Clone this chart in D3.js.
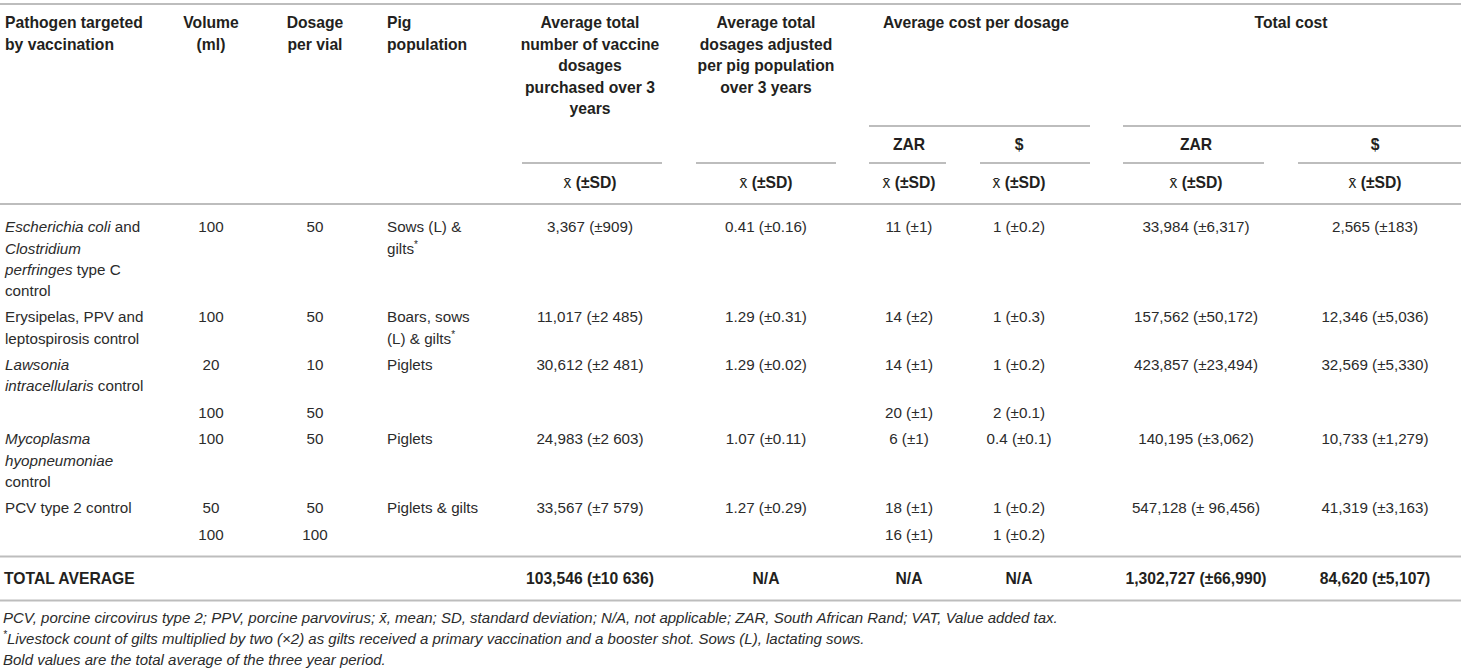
<!DOCTYPE html>
<html>
<head>
<meta charset="utf-8">
<script src="https://cdn.jsdelivr.net/npm/d3@7"></script>
<style>
  body { margin: 0; background: #fff; }
  text { font-family: "Liberation Sans", Arial, Helvetica, sans-serif; font-size: 15.7px; fill: #231f20; }
  text.cell { font-size: 15.2px; fill: #2b2b2b; }
  text.note { font-size: 15px; fill: #2b2b2b; }
</style>
</head>
<body>
<div id="table"></div>
<script>
// table content
let pathogens = [
    [[["Escherichia coli", true], [" and", false]], [["Clostridium", true]], [["perfringes", true], [" type C", false]], [["control", false]]],
    [[["Erysipelas, PPV and", false]], [["leptospirosis control", false]]],
    [[["Lawsonia", true]], [["intracellularis", true], [" control", false]]],
    [[["Mycoplasma", true]], [["hyopneumoniae", true]], [["control", false]]],
    [[["PCV type 2 control", false]]]
];
let volumes = [["100"], ["100"], ["20", "100"], ["100"], ["50", "100"]];
let dosagesPerVial = [["50"], ["50"], ["10", "50"], ["50"], ["50", "100"]];
let populations = [["Sows (L) &", "gilts*"], ["Boars, sows", "(L) & gilts*"], ["Piglets"], ["Piglets"], ["Piglets & gilts"]];
let dosesPurchased = ["3,367 (±909)", "11,017 (±2 485)", "30,612 (±2 481)", "24,983 (±2 603)", "33,567 (±7 579)"];
let dosesAdjusted = ["0.41 (±0.16)", "1.29 (±0.31)", "1.29 (±0.02)", "1.07 (±0.11)", "1.27 (±0.29)"];
let costZar = [["11 (±1)"], ["14 (±2)"], ["14 (±1)", "20 (±1)"], ["6 (±1)"], ["18 (±1)", "16 (±1)"]];
let costUsd = [["1 (±0.2)"], ["1 (±0.3)"], ["1 (±0.2)", "2 (±0.1)"], ["0.4 (±0.1)"], ["1 (±0.2)", "1 (±0.2)"]];
let totalZar = ["33,984 (±6,317)", "157,562 (±50,172)", "423,857 (±23,494)", "140,195 (±3,062)", "547,128 (± 96,456)"];
let totalUsd = ["2,565 (±183)", "12,346 (±5,036)", "32,569 (±5,330)", "10,733 (±1,279)", "41,319 (±3,163)"];
let totalRow = ["TOTAL AVERAGE", "103,546 (±10 636)", "N/A", "N/A", "N/A", "1,302,727 (±66,990)", "84,620 (±5,107)"];

let columns = ["pathogen", "volume", "dosage", "population", "purchased", "adjusted", "czar", "cusd", "tzar", "tusd"];
let headers = [
    ["Pathogen targeted", "by vaccination"],
    ["Volume", "(ml)"],
    ["Dosage", "per vial"],
    ["Pig", "population"],
    ["Average total", "number of vaccine", "dosages", "purchased over 3", "years"],
    ["Average total", "dosages adjusted", "per pig population", "over 3 years"]
];
let groupHeaders = ["Average cost per dosage", "Total cost"];
let currencies = ["ZAR", "$", "ZAR", "$"];
let footnotes = [
    "PCV, porcine circovirus type 2; PPV, porcine parvovirus; x̄, mean; SD, standard deviation; N/A, not applicable; ZAR, South African Rand; VAT, Value added tax.",
    "*Livestock count of gilts multiplied by two (×2) as gilts received a primary vaccination and a booster shot. Sows (L), lactating sows.",
    "Bold values are the total average of the three year period."
];

let width = 1461, height = 669;
let svg = d3.select("#table").append("svg")
    .attr("width", width)
    .attr("height", height);

// column positions
let colX = d3.scaleOrdinal()
    .domain(columns)
    .range([5, 211, 315, 387, 590, 766, 909, 1019, 1196, 1375]);
let leftCols = ["pathogen", "population"];
let anchor = c => leftCols.includes(c) ? "start" : "middle";

let lineH = 21.2;
let ruleColor = "#bdbdbd";

function rule(y, x1, x2) {
    svg.append("line")
        .attr("x1", x1).attr("x2", x2)
        .attr("y1", y).attr("y2", y)
        .attr("stroke", ruleColor)
        .attr("stroke-width", 2);
}

// small raised asterisk
function addStar(t) {
    t.append("tspan")
        .attr("font-size", "10px")
        .attr("baseline-shift", "60%")
        .text("*");
}

// header block
rule(4, 0, width);
headers.forEach((lines, i) => {
    let c = columns[i];
    svg.append("g").selectAll("text")
        .data(lines)
        .join("text")
        .attr("x", colX(c))
        .attr("y", (d, j) => 23 + j * 21.5)
        .attr("dy", "0.35em")
        .attr("text-anchor", anchor(c))
        .attr("font-weight", "bold")
        .text(d => d);
});

let groupSpans = [[869, 1090, 976], [1123, width, 1291]];
svg.append("g").selectAll("text")
    .data(groupHeaders)
    .join("text")
    .attr("x", (d, i) => groupSpans[i][2])
    .attr("y", 23)
    .attr("dy", "0.35em")
    .attr("text-anchor", "middle")
    .attr("font-weight", "bold")
    .text(d => d);
groupSpans.forEach(s => rule(126, s[0], s[1]));

let curCols = ["czar", "cusd", "tzar", "tusd"];
svg.append("g").selectAll("text")
    .data(currencies)
    .join("text")
    .attr("x", (d, i) => colX(curCols[i]))
    .attr("y", 145)
    .attr("dy", "0.35em")
    .attr("text-anchor", "middle")
    .attr("font-weight", "bold")
    .text(d => d);

let subSpans = [[522, 662], [696, 836], [869, 946], [980, 1090], [1123, 1264], [1298, width]];
subSpans.forEach(s => rule(163, s[0], s[1]));

let statCols = ["purchased", "adjusted", "czar", "cusd", "tzar", "tusd"];
statCols.forEach(c => {
    let t = svg.append("text")
        .attr("x", colX(c))
        .attr("y", 183)
        .attr("dy", "0.35em")
        .attr("text-anchor", "middle");
    t.append("tspan").text("x̄ ");
    t.append("tspan").attr("font-weight", "bold").text("(±SD)");
});
rule(204, 0, width);

// body rows: each group may hold sub-rows
let bodyRows = [];
pathogens.forEach((p, g) => {
    let nSub = volumes[g].length;
    for (let s = 0; s < nSub; s++) {
        bodyRows.push({
            pathogen: s === 0 ? p : [],
            volume: [volumes[g][s]],
            dosage: [dosagesPerVial[g][s]],
            population: s === 0 ? populations[g] : [],
            purchased: s === 0 ? [dosesPurchased[g]] : [],
            adjusted: s === 0 ? [dosesAdjusted[g]] : [],
            czar: [costZar[g][s]],
            cusd: [costUsd[g][s]],
            tzar: s === 0 ? [totalZar[g]] : [],
            tusd: s === 0 ? [totalUsd[g]] : []
        });
    }
});

let y0 = 227, gap = 26.5;
let rowY = [];
bodyRows.forEach((r, i) => {
    r.lines = d3.max(columns, c => r[c].length);
    rowY.push(i === 0 ? y0 : rowY[i - 1] + (bodyRows[i - 1].lines - 1) * lineH + gap);
});

let rowG = svg.append("g").selectAll("g")
    .data(bodyRows)
    .join("g")
    .attr("transform", (d, i) => `translate(0,${rowY[i]})`);

columns.forEach(c => {
    rowG.append("g").selectAll("text")
        .data(d => d[c])
        .join("text")
        .attr("class", "cell")
        .attr("x", colX(c))
        .attr("y", (d, j) => j * lineH)
        .attr("dy", "0.35em")
        .attr("text-anchor", anchor(c))
        .each(function(d) {
            let t = d3.select(this);
            if (Array.isArray(d)) {
                d.forEach(seg => t.append("tspan").attr("font-style", seg[1] ? "italic" : null).text(seg[0]));
            } else if (d.endsWith("*")) {
                t.append("tspan").text(d.slice(0, -1));
                addStar(t);
            } else {
                t.text(d);
            }
        });
});

let lastI = bodyRows.length - 1;
let bottomY = rowY[lastI] + (bodyRows[lastI].lines - 1) * lineH + 22;
rule(bottomY, 0, width);

// total row
let totalCols = ["pathogen", "purchased", "adjusted", "czar", "cusd", "tzar", "tusd"];
svg.append("g").selectAll("text")
    .data(totalRow)
    .join("text")
    .attr("x", (d, i) => i === 0 ? 4 : colX(totalCols[i]))
    .attr("y", bottomY + 22)
    .attr("dy", "0.35em")
    .attr("text-anchor", (d, i) => i === 0 ? "start" : "middle")
    .attr("font-weight", "bold")
    .text(d => d);
rule(bottomY + 44, 0, width);

// footnotes
svg.append("g").selectAll("text")
    .data(footnotes)
    .join("text")
    .attr("class", "note")
    .attr("x", 3)
    .attr("y", (d, i) => bottomY + 61 + i * 21)
    .attr("dy", "0.35em")
    .attr("font-style", "italic")
    .each(function(d) {
        let t = d3.select(this);
        if (d.startsWith("*")) {
            addStar(t);
            t.append("tspan").text(d.slice(1));
        } else {
            t.text(d);
        }
    });
</script>
</body>
</html>
